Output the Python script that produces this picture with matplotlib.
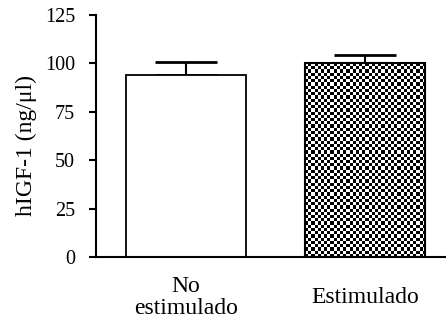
import numpy as np
import matplotlib
matplotlib.use("Agg")
import matplotlib.pyplot as plt

plt.rcParams["font.family"] = ["Liberation Serif", "DejaVu Serif"]

groups = ["No\nestimulado", "Estimulado"]
means = [94.0, 100.0]
errs = [6.7, 4.5]
yticks = [0, 25, 50, 75, 100, 125]

fig = plt.figure(figsize=(4.46, 3.24), dpi=100)
ax = fig.add_axes([0.215, 0.207, 0.785, 0.747])

x = np.arange(len(groups))
width = 0.67
bars = ax.bar(x, means, width=width, color="white", edgecolor="black",
              linewidth=1.3, zorder=2)
ax.errorbar(x, means, yerr=[np.zeros(len(errs)), errs], fmt="none",
            ecolor="black", elinewidth=1.5, capsize=22, capthick=2.0, zorder=1)

# checkerboard fill for the stimulated bar
b = bars[1]
x0, y0 = b.get_x(), b.get_y()
x1, y1 = x0 + b.get_width(), y0 + b.get_height()
ncol, nrow = 38, 60
ii, jj = np.indices((nrow, ncol))
checker = ((ii + jj) % 2).astype(float)
im = ax.imshow(checker, cmap="gray", extent=[x0, x1, y0, y1], origin="lower",
               aspect="auto", interpolation="nearest", zorder=2.5)
im.set_clip_path(b)
ax.add_patch(plt.Rectangle((x0, y0), b.get_width(), b.get_height(),
                           fill=False, edgecolor="black", linewidth=1.5, zorder=3))

ax.set_xlim(-0.5, 1.45)
ax.set_ylim(0, 125)
ax.set_yticks(yticks)
ax.set_xticks(x)
ax.set_xticklabels(groups, fontsize=17, linespacing=1.05)
for lbl in ax.get_xticklabels():
    lbl.set_verticalalignment("center")
ax.tick_params(axis="x", length=0, pad=29)
ax.tick_params(axis="y", direction="out", length=5, width=1.5, labelsize=14.5, pad=10)
ax.set_ylabel("hIGF-1 (ng/\u03bcl)", fontsize=17)
ax.yaxis.set_label_coords(-0.168, 0.459)

for s in ["top", "right"]:
    ax.spines[s].set_visible(False)
for s in ["left", "bottom"]:
    ax.spines[s].set_linewidth(1.5)

fig.savefig("out.png", dpi=100)
